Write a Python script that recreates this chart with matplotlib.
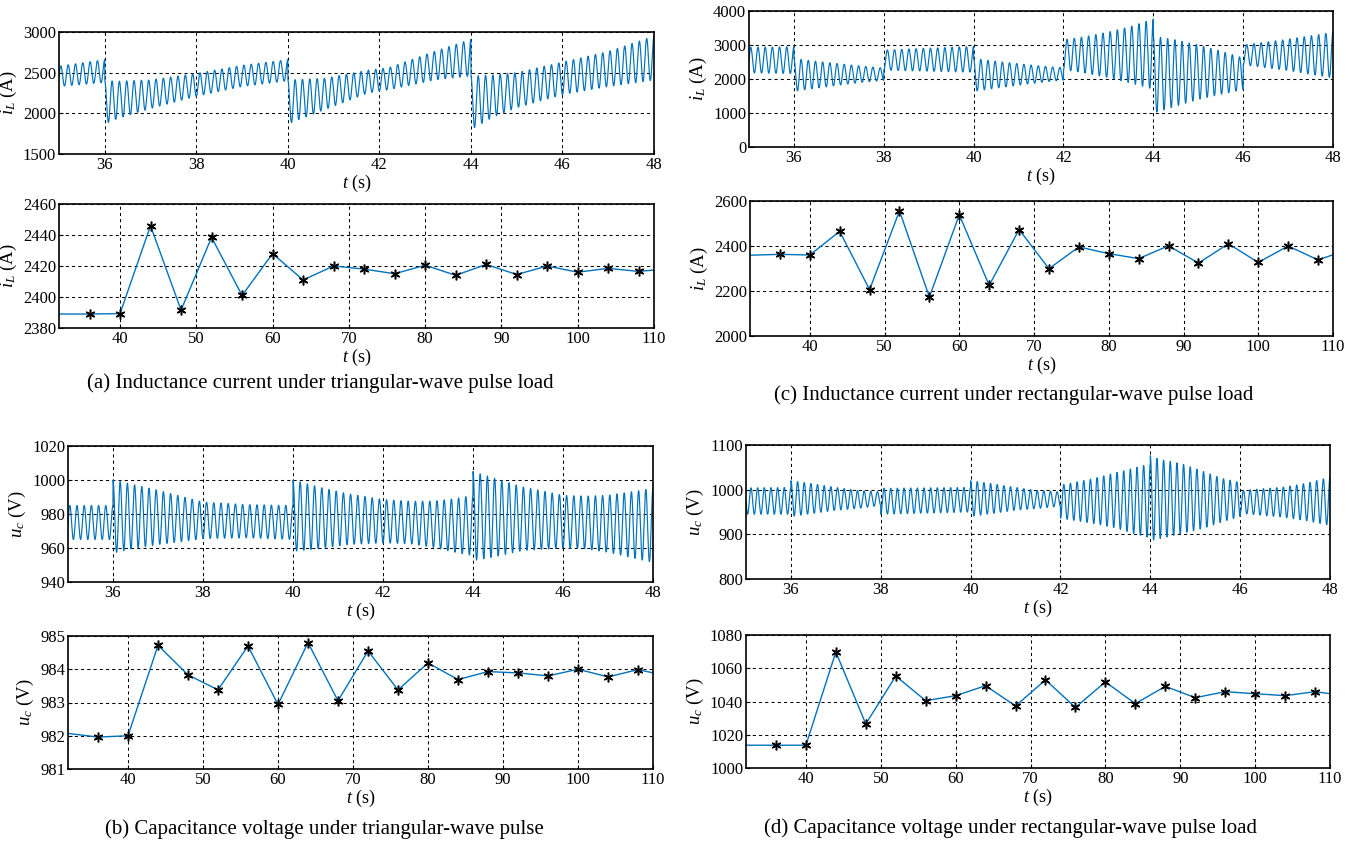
"""Pulse-load response: inductance current and capacitance voltage"""
import numpy as np
import matplotlib
matplotlib.use('Agg')
import matplotlib.pyplot as plt

plt.rcParams['font.family'] = ['Liberation Serif', 'DejaVu Serif']
plt.rcParams['mathtext.fontset'] = 'custom'
plt.rcParams['mathtext.rm'] = 'Liberation Serif'
plt.rcParams['mathtext.it'] = 'Liberation Serif:italic'

LINE_COLOR = '#0072BD'

# ---- oscillating waveforms: envelope (upper / lower) ----
# repeated times mark the jumps of the pulse load
a_env_t = [35, 36, 36, 36.3, 37, 38, 39, 40, 40, 40.8, 41.75, 42.2, 43.2, 44,
           44, 44.5, 45, 46, 47, 48]
a_env_up = [2580, 2660, 2400, 2395, 2410, 2490, 2590, 2660, 2410, 2430, 2530, 2560, 2760, 2910,
            2460, 2470, 2500, 2630, 2760, 2950]
a_env_lo = [2330, 2380, 1870, 1940, 2060, 2210, 2330, 2400, 1870, 2045, 2250, 2290, 2410, 2460,
            1800, 1960, 2070, 2230, 2330, 2410]

c_env_t = [35, 36, 36, 36.5, 37, 37.5, 38, 38, 40, 40, 40.5, 41, 41.5, 42,
           42, 42.5, 43, 43.5, 44, 44, 44.5, 45, 45.5, 46, 46, 47, 48]
c_env_up = [2930, 2950, 2600, 2520, 2450, 2380, 2320, 2850, 2960, 2600, 2520, 2450, 2380, 2330,
            3150, 3250, 3380, 3550, 3760, 3260, 3150, 3000, 2820, 2620, 3000, 3170, 3370]
c_env_lo = [2180, 2160, 1640, 1730, 1820, 1900, 1960, 2260, 2200, 1640, 1730, 1820, 1900, 1970,
            2280, 2170, 2040, 1880, 1700, 1000, 1200, 1400, 1550, 1690, 2420, 2250, 2030]

b_env_t = [35, 36, 36, 36.5, 37, 38, 39, 40, 40, 40.7, 41.2, 42, 42.6, 43.1, 43.6, 44,
           44, 44.6, 45.1, 46, 46.5, 47, 47.5, 48]
b_env_up = [985, 985, 1000, 997, 994, 987, 985.5, 985, 1000, 995, 992, 988.5, 987.5, 987.5, 989, 991,
            1005, 1000, 996, 991, 990.5, 991, 993, 995]
b_env_lo = [965, 965, 957, 960, 962, 965.5, 966, 965, 958, 960, 962, 963, 962.5, 960.5, 957.5, 955.5,
            952.5, 955.5, 958.5, 960, 959.5, 957.5, 954.5, 951.5]

d_env_t = [35, 36, 36, 36.5, 37, 37.5, 38, 38, 40, 40, 40.5, 41, 41.5, 42,
           42, 42.7, 43.2, 43.7, 44, 44, 44.2, 44.7, 45.2, 45.6, 46, 46, 47, 47.5, 48]
d_env_up = [1004, 1005, 1020, 1013, 1005, 998, 995, 1003, 1005, 1020, 1013, 1005, 998, 995,
            1010, 1024, 1037, 1050, 1058, 1076, 1068, 1058, 1040, 1025, 1016, 998, 1006, 1015, 1028]
d_env_lo = [945, 945, 940, 947, 954, 958, 965, 945, 950, 940, 947, 954, 958, 963,
            936, 925, 915, 900, 892, 886, 890, 902, 914, 928, 940, 947, 938, 930, 920]

osc_freq = {'a': 6.25, 'b': 6.25, 'c': 6.25, 'd': 6.75}

# ---- sampled values (every 4 s) ----
sample_t = [36, 40, 44, 48, 52, 56, 60, 64, 68, 72, 76, 80, 84, 88, 92, 96, 100, 104, 108]
a_samples = [2389, 2389.3, 2446, 2391.5, 2438.5, 2401, 2428, 2411, 2420, 2418,
             2415, 2420.5, 2414, 2421, 2414.5, 2420, 2416, 2418.5, 2416.5]
c_samples = [2363, 2360, 2465, 2206, 2556, 2173, 2539, 2225, 2473, 2299,
             2396, 2366, 2344, 2401, 2324, 2410, 2327, 2400, 2338]
b_samples = [981.96, 982.0, 984.72, 983.83, 983.38, 984.7, 982.94, 984.8, 983.05, 984.55,
             983.38, 984.19, 983.69, 983.93, 983.89, 983.8, 984.0, 983.77, 983.99]
d_samples = [1013.7, 1013.7, 1069.8, 1026.5, 1055.3, 1040.5, 1043.5, 1049.5, 1037.3, 1053,
             1036.4, 1051.8, 1038.7, 1049.1, 1042.3, 1045.9, 1044.7, 1043.5, 1045.9]
# line values at the left (t=32) and right (t=110) edges
edge_vals = {'a': (2389, 2417.4), 'c': (2359, 2361), 'b': (982.07, 983.89), 'd': (1013.7, 1044.7)}

captions = {
    'a': '(a) Inductance current under triangular-wave pulse load',
    'b': '(b) Capacitance voltage under triangular-wave pulse',
    'c': '(c) Inductance current under rectangular-wave pulse load',
    'd': '(d) Capacitance voltage under rectangular-wave pulse load',
}

W, H = 1362, 843
fig = plt.figure(figsize=(W / 100, H / 100), dpi=100)


def add_axes_px(left, right, top, bottom):
    return fig.add_axes([left / W, 1 - bottom / H, (right - left) / W, (bottom - top) / H])


def style_axes(ax, xlim, xticks, ylim, yticks, ylabel):
    ax.set_xlim(*xlim)
    ax.set_xticks(xticks)
    ax.set_ylim(*ylim)
    ax.set_yticks(yticks)
    ax.grid(True, color='black', linestyle=(0, (3, 3)), linewidth=0.75)
    ax.tick_params(direction='in', length=3, labelsize=12, pad=2)
    for sp in ax.spines.values():
        sp.set_linewidth(1.2)
    ax.set_xlabel(r'$t$ (s)', fontsize=13, labelpad=0)
    ax.set_ylabel(ylabel, fontsize=13.5, labelpad=3)


def waveform(env_t, env_up, env_lo, freq):
    kt = np.array(env_t, dtype=float)
    dup = np.r_[False, np.diff(kt) == 0]
    kt[dup] += 1e-4
    t = np.linspace(35, 48, 8000)
    up = np.interp(t, kt, env_up)
    lo = np.interp(t, kt, env_lo)
    return t, (up + lo) / 2 + (up - lo) / 2 * np.cos(2 * np.pi * freq * t)


def draw_top(ax, key, env_t, env_up, env_lo, ylim, yticks, ylabel):
    t, y = waveform(env_t, env_up, env_lo, osc_freq[key])
    ax.plot(t, y, color=LINE_COLOR, linewidth=0.85)
    style_axes(ax, (35, 48), range(36, 49, 2), ylim, yticks, ylabel)


def draw_bottom(ax, key, samples, ylim, yticks, ylabel):
    start, end = edge_vals[key]
    ax.plot([32] + sample_t + [110], [start] + samples + [end], color=LINE_COLOR, linewidth=1.0)
    # MATLAB-style asterisk marker
    ax.plot(sample_t, samples, linestyle='none', marker=(6, 2, 0), color='black',
            markersize=7, markeredgewidth=1.1)
    style_axes(ax, (32, 110), range(40, 111, 10), ylim, yticks, ylabel)


iL = r'$i_L$ (A)'
uc = r'$u_c$ (V)'

ax = add_axes_px(59, 654, 32, 154)
draw_top(ax, 'a', a_env_t, a_env_up, a_env_lo, (1500, 3000), range(1500, 3001, 500), iL)
ax = add_axes_px(59, 654, 204, 328)
draw_bottom(ax, 'a', a_samples, (2380, 2460), range(2380, 2461, 20), iL)

ax = add_axes_px(749, 1333, 11, 147)
draw_top(ax, 'c', c_env_t, c_env_up, c_env_lo, (0, 4000), range(0, 4001, 1000), iL)
ax = add_axes_px(750, 1333, 201, 336)
draw_bottom(ax, 'c', c_samples, (2000, 2600), range(2000, 2601, 200), iL)

ax = add_axes_px(68, 653, 446, 582)
draw_top(ax, 'b', b_env_t, b_env_up, b_env_lo, (940, 1020), range(940, 1021, 20), uc)
ax = add_axes_px(68, 653, 636, 769)
draw_bottom(ax, 'b', b_samples, (981, 985), range(981, 986), uc)

ax = add_axes_px(746, 1330, 445, 579)
draw_top(ax, 'd', d_env_t, d_env_up, d_env_lo, (800, 1100), range(800, 1101, 100), uc)
ax = add_axes_px(746, 1330, 635, 768)
draw_bottom(ax, 'd', d_samples, (1000, 1080), range(1000, 1081, 20), uc)

caption_pos = {'a': (320, 383), 'c': (1014, 395), 'b': (324, 829), 'd': (1010, 828)}
for key, (x, y) in caption_pos.items():
    fig.text(x / W, 1 - y / H, captions[key], ha='center', va='center', fontsize=15)

fig.savefig('out.png', dpi=100)
